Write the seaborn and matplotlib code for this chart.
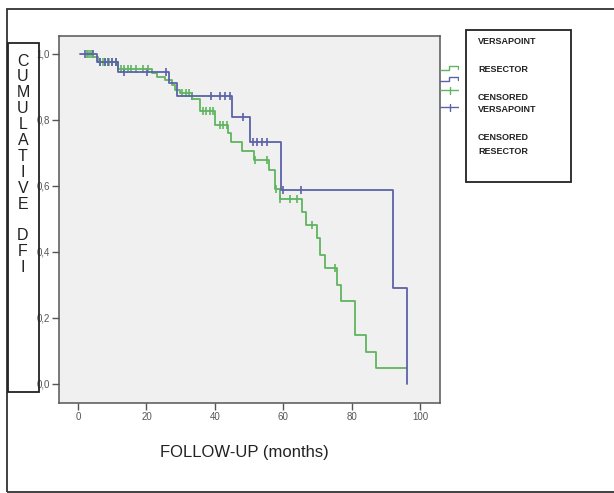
"""
Kaplan-Meier style disease free interval: Versapoint vs Resector
"""

import matplotlib.pyplot as plt
import matplotlib.patches as patches
import numpy as np
import seaborn as sns

# VERSAPOINT (blue) step curve and censored times
versa_t = [0.5, 5.6, 11.7, 26.6, 28.8, 45.0, 50.3, 59.3, 92.0, 96.3]
versa_s = [1.0, 0.976, 0.946, 0.912, 0.873, 0.81, 0.732, 0.588, 0.292, 0.0]
versa_cens = [2.0, 4.3, 6.4, 7.9, 8.9, 9.8, 11.1, 13.3, 20.1, 25.8,
              33.2, 39.0, 41.5, 43.0, 44.4, 48.1, 51.1, 52.2, 53.7, 55.2,
              60.0, 65.2]

# RESECTOR (green) step curve and censored times
resec_t = [2.0, 4.5, 5.9, 11.8, 21.5, 23.0, 25.4, 27.4, 28.4, 29.8,
           33.2, 35.7, 40.1, 43.9, 44.6, 47.9, 51.3, 55.9, 57.6, 58.9,
           65.4, 66.7, 69.8, 70.8, 72.2, 75.8, 76.8, 81.0, 84.1, 87.1, 96.1]
resec_s = [1.0, 0.99, 0.976, 0.953, 0.941, 0.931, 0.921, 0.906, 0.891, 0.883,
           0.864, 0.828, 0.785, 0.76, 0.734, 0.705, 0.679, 0.648, 0.59, 0.559,
           0.522, 0.482, 0.441, 0.391, 0.35, 0.30, 0.25, 0.148, 0.098, 0.047, 0.047]
resec_cens = [2.5, 3.0, 3.6, 4.2, 6.5, 7.2, 8.0, 9.0, 10.0, 11.0,
              12.5, 13.5, 14.5, 15.5, 17.0, 19.0, 20.5, 30.5, 31.5, 32.5,
              36.5, 37.5, 38.5, 39.5, 41.5, 42.5, 43.5, 51.8, 55.2, 58.0,
              59.1, 62.0, 63.9, 68.3, 75.1]

x_ticks = [0, 20, 40, 60, 80, 100]
y_ticks = [0.0, 0.2, 0.4, 0.6, 0.8, 1.0]
y_label_letters = ['C', 'U', 'M', 'U', 'L', 'A', 'T', 'I', 'V', 'E', '', 'D', 'F', 'I']
legend_labels = ['VERSAPOINT', 'RESECTOR', 'CENSORED', 'VERSAPOINT', 'CENSORED', 'RESECTOR']

green = '#5fb55f'
blue = '#5c62a8'

sns.set_theme(style='white')
plt.rcParams['font.family'] = ['Liberation Sans', 'DejaVu Sans']

W, H = 614, 493
def fx(x): return x / W
def fy(y): return 1 - y / H

fig = plt.figure(figsize=(W / 100, H / 100), dpi=100)
fig.patch.set_facecolor('white')
ax = fig.add_axes([fx(59), fy(403), (440 - 59) / W, (403 - 36) / H])
ax.set_facecolor('#f0f0f0')


def step_at(t, s, c):
    idx = np.searchsorted(t, c, side='right') - 1
    return np.asarray(s)[idx]


sns.lineplot(x=resec_t, y=resec_s, drawstyle='steps-post', color=green,
             linewidth=1.3, estimator=None, ax=ax)
sns.lineplot(x=versa_t, y=versa_s, drawstyle='steps-post', color=blue,
             linewidth=1.3, estimator=None, ax=ax)
sns.scatterplot(x=resec_cens, y=step_at(resec_t, resec_s, resec_cens), marker='|',
                s=28, linewidth=1.2, color=green, ax=ax)
sns.scatterplot(x=versa_cens, y=step_at(versa_t, versa_s, versa_cens), marker='|',
                s=28, linewidth=1.2, color=blue, ax=ax)

ax.set_xlim(-5.56, 105.8)
ax.set_ylim(-0.058, 1.0545)
ax.set_xticks(x_ticks)
ax.set_xticklabels([str(v) for v in x_ticks])
ax.set_yticks(y_ticks)
ax.set_yticklabels([f'{v:.1f}'.replace('.', ',') for v in y_ticks])
ax.tick_params(axis='both', direction='out', length=5, width=1, color='#555',
               labelsize=7, labelcolor='#555', pad=1.5, left=True, bottom=True)
for sp in ax.spines.values():
    sp.set_color('#555')
    sp.set_linewidth(1.1)
ax.set_xlabel('')
ax.set_ylabel('')

# x axis title
fig.text(fx(244), fy(452), 'FOLLOW-UP (months)', ha='center', va='center',
         fontsize=12, color='#222')

# outer frame
fig.patches.append(patches.Rectangle((fx(7), fy(492)), fx(620) - fx(7), fy(9) - fy(492),
                                     transform=fig.transFigure, fill=False,
                                     edgecolor='#333', linewidth=1.3, zorder=5))

# boxed vertical y title
fig.patches.append(patches.Rectangle((fx(8), fy(392)), fx(39) - fx(8), fy(43) - fy(392),
                                     transform=fig.transFigure, fill=False,
                                     edgecolor='#222', linewidth=1.3, zorder=5))
for i, ch in enumerate(y_label_letters):
    fig.text(fx(23), fy(61 + i * 15.9), ch, ha='center', va='center',
             fontsize=11.5, color='#222')

# legend box with text
fig.patches.append(patches.Rectangle((fx(466), fy(182)), fx(571) - fx(466), fy(30) - fy(182),
                                     transform=fig.transFigure, fill=False,
                                     edgecolor='#222', linewidth=1.3, zorder=5))
leg_y = [41, 69, 97, 109, 137, 151]
for lab, yy in zip(legend_labels, leg_y):
    fig.text(fx(478), fy(yy), lab, ha='left', va='center', fontsize=6.5,
             fontweight='bold', color='#222')

# legend glyphs outside the box
gx = fig.add_axes([fx(440), fy(112), (459 - 440) / W, (112 - 60) / H])
gx.set_xlim(0, 1)
gx.set_ylim(0, 1)
gx.axis('off')
for base, col in [(0.87, green), (0.66, blue)]:
    gx.plot([0.0, 0.45, 0.45, 0.95, 0.95], [base - 0.06, base - 0.06, base + 0.02,
            base + 0.02, base - 0.04], color=col, linewidth=1)
for yy, col in [(0.42, green), (0.09, blue)]:
    gx.plot([0.0, 1.0], [yy, yy], color=col, linewidth=1)
    gx.plot([0.5, 0.5], [yy - 0.07, yy + 0.07], color=col, linewidth=1)

fig.savefig('out.png', dpi=100)
